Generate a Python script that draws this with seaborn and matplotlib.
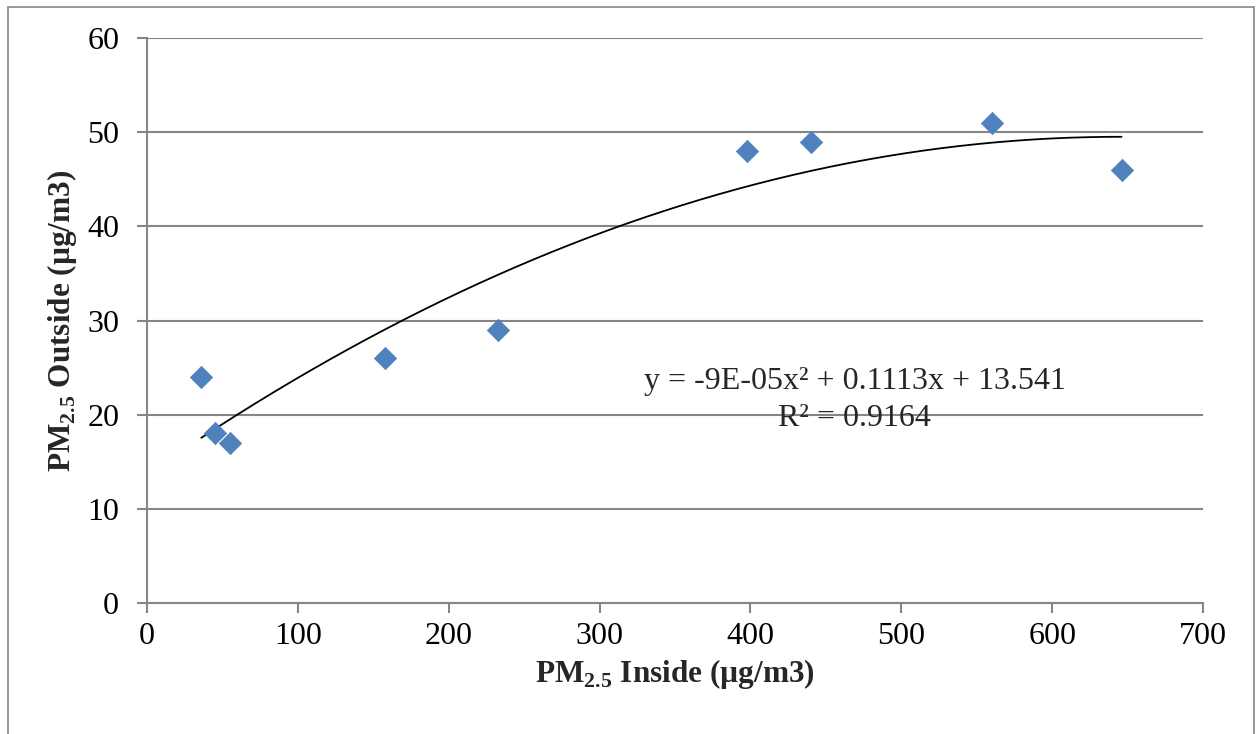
import numpy as np
import pandas as pd
import seaborn as sns
from matplotlib import pyplot as plt
from matplotlib.patches import Rectangle

# values
pm_inside = [36, 45, 55, 158, 233, 398, 440, 560, 646]
pm_outside = [24, 18, 17, 26, 29, 48, 49, 51, 46]
x_ticks = [0, 100, 200, 300, 400, 500, 600, 700]
y_ticks = [0, 10, 20, 30, 40, 50, 60]
eq_text = 'y = -9E-05x² + 0.1113x + 13.541'
r2_text = 'R² = 0.9164'

df = pd.DataFrame({'inside': pm_inside, 'outside': pm_outside})

sns.set_style('white')
plt.rcParams['font.family'] = ['Liberation Serif', 'DejaVu Serif']
plt.rcParams['mathtext.fontset'] = 'custom'
plt.rcParams['mathtext.rm'] = 'Liberation Serif'
plt.rcParams['mathtext.bf'] = 'Liberation Serif:bold'

fig = plt.figure(figsize=(12.56, 7.34), dpi=100)
ax = fig.add_axes([0.117, 0.1785, 0.8408, 0.7697])

grey = '#868686'

# outer chart border
fig.patches.append(Rectangle((0.0064, -0.02), 0.992, 1.0105, transform=fig.transFigure,
                             fill=False, edgecolor=grey, linewidth=1.2))

sns.scatterplot(data=df, x='inside', y='outside', marker='D', s=130,
                color='#4F81BD', edgecolor='#4F81BD', linewidth=0.5, ax=ax, zorder=3)

# 2nd order polynomial trendline
coef = np.polyfit(df['inside'], df['outside'], 2)
xs = np.linspace(df['inside'].min(), df['inside'].max(), 200)
sns.lineplot(x=xs, y=np.polyval(coef, xs), color='black', linewidth=1.3, ax=ax, zorder=2)

ax.set_xlim(0, 700)
ax.set_ylim(0, 60)
ax.set_xticks(x_ticks)
ax.set_yticks(y_ticks)
ax.yaxis.grid(True, color=grey, linewidth=1.5)
ax.set_axisbelow(True)

for side in ['top', 'right']:
    ax.spines[side].set_visible(False)
for side in ['left', 'bottom']:
    ax.spines[side].set_color(grey)
    ax.spines[side].set_linewidth(1.5)

ax.tick_params(axis='both', direction='out', length=7, width=1.5, color=grey,
               labelsize=23, labelcolor='black', bottom=True, left=True)
ax.tick_params(axis='x', pad=7)
ax.tick_params(axis='y', pad=13)

ax.set_xlabel(r'PM$_\mathbf{2.5}$ Inside (µg/m3)', fontsize=22.5, fontweight='bold', labelpad=4)
ax.set_ylabel(r'PM$_\mathbf{2.5}$ Outside (µg/m3)', fontsize=22.5, fontweight='bold', labelpad=6)

ax.text(469, 23.5, eq_text, fontsize=23, ha='center', va='center')
ax.text(469, 19.6, r2_text, fontsize=23, ha='center', va='center')

fig.savefig('out.png', dpi=100)
